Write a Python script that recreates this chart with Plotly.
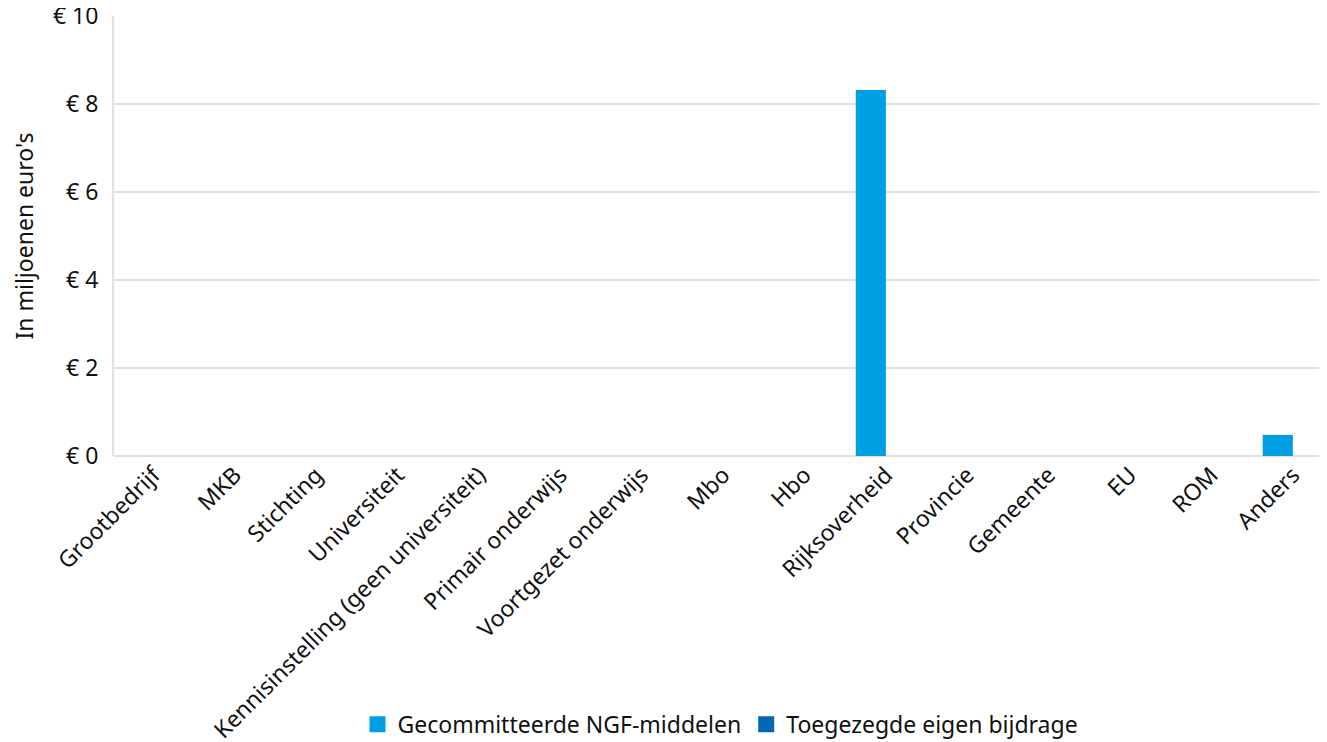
import plotly.graph_objects as go

categories = ["Grootbedrijf", "MKB", "Stichting", "Universiteit",
              "Kennisinstelling (geen universiteit)", "Primair onderwijs",
              "Voortgezet onderwijs", "Mbo", "Hbo", "Rijksoverheid",
              "Provincie", "Gemeente", "EU", "ROM", "Anders"]
ngf_values = [0, 0, 0, 0, 0, 0, 0, 0, 0, 8.32, 0, 0, 0, 0, 0.48]
eigen_values = [0, 0, 0, 0, 0, 0, 0, 0, 0, 0, 0, 0, 0, 0, 0]
series_names = ["Gecommitteerde NGF-middelen", "Toegezegde eigen bijdrage"]
series_colors = ["#009FE3", "#0067B2"]
y_ticks = [0, 2, 4, 6, 8, 10]

FONT = "Noto Sans"
FS = 23

fig = go.Figure()
for vals, name, col in zip([ngf_values, eigen_values], series_names, series_colors):
    fig.add_trace(go.Bar(x=categories, y=vals, name=name, showlegend=False,
                         marker=dict(color=col, line=dict(width=0))))
# legend entries with larger square swatches
for name, col in zip(series_names, series_colors):
    fig.add_trace(go.Scatter(x=[None], y=[None], mode="markers", name=name,
                             marker=dict(symbol="square", size=20, color=col),
                             showlegend=True))

fig.update_layout(
    width=1319, height=734,
    barmode="group", bargap=0.26, bargroupgap=0,
    plot_bgcolor="white", paper_bgcolor="white",
    font=dict(family=FONT, size=FS, color="#111111"),
    margin=dict(l=106, r=0, t=8, b=286, autoexpand=False),
    showlegend=True,
    legend=dict(orientation="h", x=0.5, xanchor="center", y=-0.61, yanchor="middle",
                font=dict(size=FS), itemsizing="trace", traceorder="normal",
                itemwidth=30, tracegroupgap=0),
    xaxis=dict(range=[-0.484, 14.42], tickangle=-45, showgrid=False, showline=False,
               zeroline=False, ticks="", tickfont=dict(size=FS), automargin=False),
    yaxis=dict(range=[0, 10], tickvals=y_ticks, ticktext=[f"€ {v}" for v in y_ticks],
               showgrid=True, gridcolor="#e0e0e0", gridwidth=2,
               zeroline=True, zerolinecolor="#e0e0e0", zerolinewidth=2,
               showline=True, linecolor="#e0e0e0", linewidth=2,
               ticks="", ticklabelstandoff=9, tickfont=dict(size=FS), automargin=False,
               ticklabeloverflow="allow",
               title=dict(text="In miljoenen euro's", font=dict(size=FS), standoff=19)),
)

fig.write_html("out.html")
